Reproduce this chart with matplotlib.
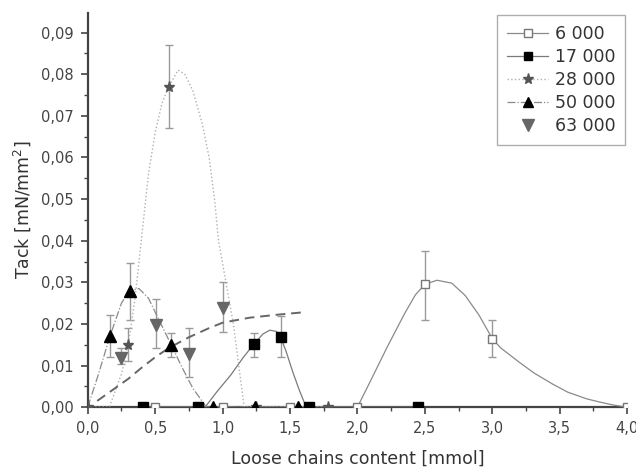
import matplotlib
matplotlib.use('Agg')
import matplotlib.pyplot as plt
from matplotlib.lines import Line2D
from matplotlib.ticker import FuncFormatter, MultipleLocator

plt.rcParams['font.family'] = ['DejaVu Sans']

# ---- measured points (x, tack, error bar low/high) ----
x_6k = [0.5, 1.0, 1.5, 2.0, 2.5, 3.0, 4.0]
y_6k = [0, 0, 0, 0, 0.0295, 0.0165, 0]
lo_6k = [0, 0, 0, 0, 0.021, 0.012, 0]
hi_6k = [0, 0, 0, 0, 0.0375, 0.021, 0]

x_17k = [0.41, 0.82, 1.23, 1.43, 1.64, 2.45]
y_17k = [0, 0, 0.0151, 0.0168, 0, 0]
lo_17k = [0, 0, 0.012, 0.012, 0, 0]
hi_17k = [0, 0, 0.0178, 0.022, 0, 0]

x_28k = [0.0, 0.3, 0.6, 1.25, 1.78]
y_28k = [0, 0.015, 0.077, 0, 0]
lo_28k = [0, 0.011, 0.067, 0, 0]
hi_28k = [0, 0.019, 0.087, 0, 0]

x_50k = [0.165, 0.31, 0.62, 0.93, 1.24, 1.56]
y_50k = [0.0171, 0.0279, 0.0149, 0, 0, 0]
lo_50k = [0.012, 0.0209, 0.012, 0, 0, 0]
hi_50k = [0.0221, 0.0346, 0.0178, 0, 0, 0]

x_63k = [0.25, 0.505, 0.75, 1.0]
y_63k = [0.0118, 0.0197, 0.0127, 0.0238]
lo_63k = [0.0103, 0.0142, 0.0072, 0.018]
hi_63k = [0.0142, 0.026, 0.019, 0.030]

# ---- connecting curves ----
cx_6k = [0.5, 2.0, 2.1, 2.22, 2.35, 2.43, 2.5, 2.59, 2.7, 2.8, 2.9, 3.0,
         3.06, 3.2, 3.31, 3.45, 3.56, 3.7, 3.8, 3.9, 4.0]
cy_6k = [0, 0, 0.0065, 0.0144, 0.0225, 0.027, 0.0295, 0.0305, 0.0298,
         0.0268, 0.0222, 0.0165, 0.0143, 0.0108, 0.0082, 0.0055, 0.0036,
         0.002, 0.0012, 0.0005, 0]

cx_17k = [0.41, 0.87, 0.96, 1.06, 1.15, 1.23, 1.3, 1.35, 1.4, 1.43, 1.47,
          1.52, 1.57, 1.62, 2.45]
cy_17k = [0, 0, 0.0038, 0.0077, 0.0118, 0.0151, 0.0176, 0.0185, 0.0182,
          0.0168, 0.0135, 0.0085, 0.004, 0, 0]

cx_28k = [0.0, 0.16, 0.25, 0.3, 0.35, 0.4, 0.45, 0.5, 0.55, 0.6, 0.67,
          0.72, 0.78, 0.85, 0.9, 0.94, 0.97, 1.03, 1.08, 1.12, 1.16, 1.78]
cy_28k = [0, 0, 0.008, 0.015, 0.026, 0.041, 0.056, 0.066, 0.073, 0.077,
          0.081, 0.08, 0.076, 0.068, 0.06, 0.05, 0.04, 0.029, 0.02, 0.01,
          0, 0]

cx_50k = [0.0, 0.08, 0.165, 0.25, 0.31, 0.38, 0.45, 0.52, 0.62, 0.7,
          0.78, 0.88, 1.56]
cy_50k = [0, 0.008, 0.0171, 0.025, 0.028, 0.0285, 0.0262, 0.0215,
          0.0149, 0.0095, 0.0045, 0, 0]

fx_63k = [0.07, 0.2, 0.3, 0.4, 0.5, 0.6, 0.75, 0.9, 1.0, 1.2, 1.4, 1.6]
fy_63k = [0.0015, 0.0045, 0.0068, 0.0095, 0.012, 0.0142, 0.0168, 0.019,
          0.0203, 0.0215, 0.0222, 0.0228]

labels = ['6 000', '17 000', '28 000', '50 000', '63 000']

fig = plt.figure(figsize=(6.36, 4.68), dpi=100)
ax = fig.add_axes([0.138, 0.13, 0.848, 0.842])

ebar = dict(fmt='none', ecolor='#9a9a9a', elinewidth=1.0, capsize=3,
            capthick=1.0, zorder=2)

def draw_err(x, y, lo, hi):
    xs, ys, el, eh = [], [], [], []
    for a, b, l, h in zip(x, y, lo, hi):
        if h > l:
            xs.append(a); ys.append(b); el.append(b - l); eh.append(h - b)
    if xs:
        ax.errorbar(xs, ys, yerr=[el, eh], **ebar)

for x, y, lo, hi in [(x_6k, y_6k, lo_6k, hi_6k), (x_17k, y_17k, lo_17k, hi_17k),
                     (x_28k, y_28k, lo_28k, hi_28k), (x_50k, y_50k, lo_50k, hi_50k),
                     (x_63k, y_63k, lo_63k, hi_63k)]:
    draw_err(x, y, lo, hi)

# curves
ax.plot(cx_6k, cy_6k, '-', color='#8a8a8a', lw=0.9, zorder=3)
ax.plot(cx_17k, cy_17k, '-', color='#7a7a7a', lw=0.9, zorder=3)
ax.plot(cx_28k, cy_28k, ':', color='#b0b0b0', lw=1.0, zorder=3)
ax.plot(cx_50k, cy_50k, '-.', color='#8a8a8a', lw=0.9, zorder=3)
ax.plot(fx_63k, fy_63k, '--', color='#666666', lw=1.4, dashes=(5, 3), zorder=3)

# markers
ax.plot(x_6k, y_6k, 's', ms=6, mfc='white', mec='#777777', mew=1.0, ls='none', zorder=5)
ax.plot(x_17k, y_17k, 's', ms=7, color='black', ls='none', zorder=5)
ax.plot(x_28k, y_28k, '*', ms=8, color='#555555', ls='none', zorder=5)
ax.plot(x_50k, y_50k, '^', ms=8, color='black', ls='none', zorder=5)
ax.plot(x_63k, y_63k, 'v', ms=9, color='#666666', ls='none', zorder=5)

handles = [
    Line2D([], [], ls='-', color='#8a8a8a', lw=0.9, marker='s', ms=6, mfc='white', mec='#777777'),
    Line2D([], [], ls='-', color='#7a7a7a', lw=0.9, marker='s', ms=6, mfc='black', mec='black'),
    Line2D([], [], ls=':', color='#b0b0b0', lw=1.0, marker='*', ms=8, mfc='#555555', mec='#555555'),
    Line2D([], [], ls='-.', color='#8a8a8a', lw=0.9, marker='^', ms=7, mfc='black', mec='black'),
    Line2D([], [], ls='none', marker='v', ms=8, mfc='#666666', mec='#666666'),
]
leg = ax.legend(handles, labels, loc='upper right', bbox_to_anchor=(0.997, 0.995),
                fontsize=12.5, frameon=True, fancybox=False, handlelength=2.4,
                borderpad=0.55, labelspacing=0.3, handletextpad=0.4,
                borderaxespad=0.0)
leg.get_frame().set_edgecolor('#999999')
leg.get_frame().set_linewidth(1.0)
for t in leg.get_texts():
    t.set_color('#333333')

ax.set_xlim(0, 4.0)
ax.set_ylim(0, 0.0947)
ax.xaxis.set_major_locator(MultipleLocator(0.5))
ax.xaxis.set_minor_locator(MultipleLocator(0.25))
ax.yaxis.set_major_locator(MultipleLocator(0.01))
ax.yaxis.set_minor_locator(MultipleLocator(0.005))
ax.xaxis.set_major_formatter(FuncFormatter(lambda v, p: f'{v:.1f}'.replace('.', ',')))
ax.yaxis.set_major_formatter(FuncFormatter(lambda v, p: f'{v:.2f}'.replace('.', ',')))

for s in ['top', 'right']:
    ax.spines[s].set_visible(False)
for s in ['left', 'bottom']:
    ax.spines[s].set_linewidth(1.6)
    ax.spines[s].set_color('#444444')
ax.tick_params(which='major', length=5, width=1.2, color='#444444',
               labelsize=10.5, labelcolor='#444444', pad=5)
ax.tick_params(which='minor', length=3, width=1.0, color='#444444')

ax.set_xlabel('Loose chains content [mmol]', fontsize=12.5, color='#333333', labelpad=10)
ax.set_ylabel('Tack [mN/mm$^2$]', fontsize=12.5, color='#333333', labelpad=6)

fig.savefig('out.png', dpi=100)
